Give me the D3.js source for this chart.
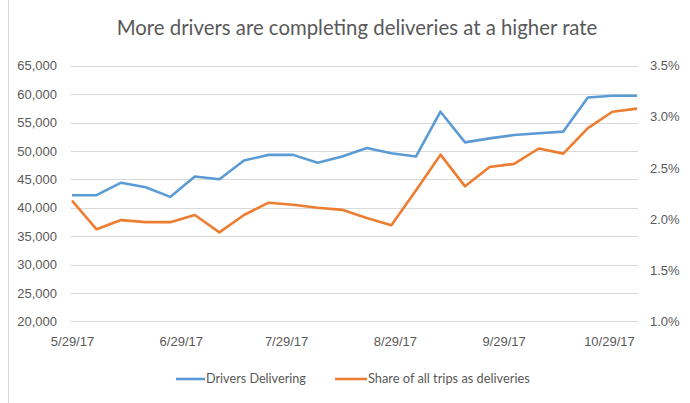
<!DOCTYPE html>
<html>
<head>
<meta charset="utf-8">
<script src="https://cdn.jsdelivr.net/npm/d3@7"></script>
<style>
  body { margin: 0; background: #fff; }
  svg { display: block; }
</style>
</head>
<body>
<div id="chart"></div>
<script>
const width = 690;
const height = 403;

// weekly points starting 5/29/17
const startDate = "2017-05-29";
const driversDelivering = [42200, 42200, 44400, 43600, 41900, 45500, 45000, 48300, 49300, 49300, 47900, 49000,
    50500, 49600, 49000, 56900, 51500, 52200, 52800, 53100, 53400, 59400, 59700, 59700];
const shareDeliveries = [2.18, 1.90, 1.99, 1.97, 1.97, 2.04, 1.87, 2.04, 2.16, 2.14, 2.11, 2.09,
    2.01, 1.94, 2.28, 2.63, 2.32, 2.51, 2.54, 2.69, 2.64, 2.89, 3.05, 3.08];
const dateTicks = ["2017-05-29", "2017-06-29", "2017-07-29", "2017-08-29", "2017-09-29", "2017-10-29"];
const leftTicks = [20000, 25000, 30000, 35000, 40000, 45000, 50000, 55000, 60000, 65000];
const rightTicks = [1.0, 1.5, 2.0, 2.5, 3.0, 3.5];
const seriesNames = ["Drivers Delivering", "Share of all trips as deliveries"];
const seriesColors = ["#5B9BD5", "#ED7D31"];

const parse = d3.timeParse("%Y-%m-%d");
const fmtDate = d3.timeFormat("%-m/%-d/%y");
const dates = driversDelivering.map((d, i) => d3.timeDay.offset(parse(startDate), i * 7));

const svg = d3.select("#chart")
    .append("svg")
    .attr("width", width)
    .attr("height", height);

// chart frame, only the left edge shows in the crop
svg.append("line")
    .attr("x1", 8.5).attr("x2", 8.5)
    .attr("y1", 0).attr("y2", height)
    .attr("stroke", "#d9d9d9");

const x = d3.scaleTime()
    .domain([dates[0], dates[dates.length - 1]])
    .range([72, 637]);

const yLeft = d3.scaleLinear()
    .domain([20000, 65000])
    .range([321.3, 65.7]);

const yRight = d3.scaleLinear()
    .domain([1.0, 3.5])
    .range([321.3, 65.7]);

const textColor = "#595959";

// gridlines
svg.append("g")
    .selectAll("line")
    .data(leftTicks)
    .enter().append("line")
    .attr("x1", 70.5).attr("x2", 638)
    .attr("y1", d => Math.round(yLeft(d)) + 0.5)
    .attr("y2", d => Math.round(yLeft(d)) + 0.5)
    .attr("stroke", "#d9d9d9")
    .attr("stroke-width", 1);

// left axis
const axisLeft = svg.append("g")
    .attr("transform", "translate(57,0)")
    .call(d3.axisLeft(yLeft).tickValues(leftTicks).tickFormat(d3.format(",")).tickSize(0).tickPadding(0));
axisLeft.select(".domain").remove();
axisLeft.selectAll("text")
    .attr("fill", textColor)
    .style("font-family", "'Liberation Sans', Arial, sans-serif")
    .style("font-size", "13px");

// right axis
const axisRight = svg.append("g")
    .attr("transform", "translate(650,0)")
    .call(d3.axisRight(yRight).tickValues(rightTicks).tickFormat(d => d.toFixed(1) + "%").tickSize(0).tickPadding(0));
axisRight.select(".domain").remove();
axisRight.selectAll("text")
    .attr("fill", textColor)
    .style("font-family", "'Liberation Sans', Arial, sans-serif")
    .style("font-size", "13px");

// bottom axis
const axisBottom = svg.append("g")
    .attr("transform", "translate(0,337)")
    .call(d3.axisBottom(x).tickValues(dateTicks.map(parse)).tickFormat(fmtDate).tickSize(0).tickPadding(0));
axisBottom.select(".domain").remove();
axisBottom.selectAll("text")
    .attr("fill", textColor)
    .style("font-family", "'Liberation Sans', Arial, sans-serif")
    .style("font-size", "13px");

// lines
const lineLeft = d3.line()
    .x((d, i) => x(dates[i]))
    .y(d => yLeft(d));

const lineRight = d3.line()
    .x((d, i) => x(dates[i]))
    .y(d => yRight(d));

svg.append("path")
    .datum(driversDelivering)
    .attr("d", lineLeft)
    .attr("fill", "none")
    .attr("stroke", seriesColors[0])
    .attr("stroke-width", 2.6)
    .attr("stroke-linejoin", "round");

svg.append("path")
    .datum(shareDeliveries)
    .attr("d", lineRight)
    .attr("fill", "none")
    .attr("stroke", seriesColors[1])
    .attr("stroke-width", 2.6)
    .attr("stroke-linejoin", "round");

// title
const title = svg.append("text")
    .attr("x", 357)
    .attr("y", 35)
    .attr("text-anchor", "middle")
    .attr("fill", textColor)
    .style("font-family", "Lato, 'Open Sans', sans-serif")
    .style("font-size", "18px")
    .text("More drivers are completing deliveries at a higher rate");
// fit to the width seen in the reference
const tw = title.node().getComputedTextLength();
title.style("font-size", (18 * 481 / tw).toFixed(2) + "px");

// legend
const legendItems = [
    { name: seriesNames[0], color: seriesColors[0], x0: 176, x1: 205, tx: 206, w: 100 },
    { name: seriesNames[1], color: seriesColors[1], x0: 335, x1: 367, tx: 368, w: 162 }
];
const legend = svg.append("g");
legendItems.forEach(d => {
    legend.append("line")
        .attr("x1", d.x0).attr("x2", d.x1)
        .attr("y1", 379).attr("y2", 379)
        .attr("stroke", d.color)
        .attr("stroke-width", 2.6);
    const t = legend.append("text")
        .attr("x", d.tx)
        .attr("y", 383)
        .attr("fill", textColor)
        .style("font-family", "Lato, 'Open Sans', sans-serif")
        .style("font-size", "12px")
        .text(d.name);
    const w = t.node().getComputedTextLength();
    t.style("font-size", (12 * d.w / w).toFixed(2) + "px");
});
</script>
</body>
</html>
